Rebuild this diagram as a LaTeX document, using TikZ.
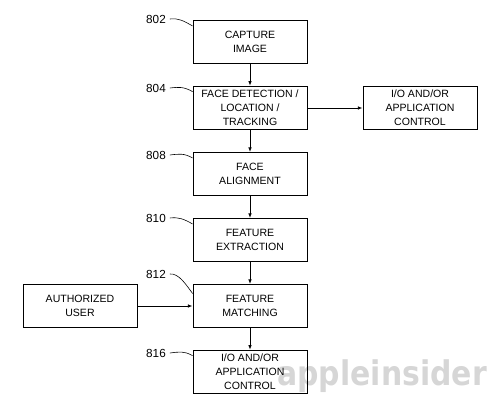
\documentclass[tikz,border=0pt]{standalone}
\usepackage{fontspec}
\setmainfont{Liberation Sans}
\newfontfamily\markfont{DejaVu Sans}
\usetikzlibrary{arrows.meta}

\begin{document}
\begin{tikzpicture}[x=0.03cm, y=-0.03cm, node distance=1.98cm,
    main/.style = {draw, rectangle, minimum width=3.42cm, minimum height=1.29cm, align=center, font=\fontsize{9}{12}\selectfont, line width=0.7pt},
    num/.style = {font=\fontsize{10}{12}\selectfont},
    lead/.style = {line width=0.5pt},
    flow/.style = {-{Latex[length=4pt,width=3pt]}, line width=0.7pt}]
            \useasboundingbox (0,0) rectangle (494,403);
            \node[text=black!16, font=\markfont\bfseries\fontsize{29}{29}\selectfont, anchor=base, xscale=0.88, inner sep=0pt](wm) at (382,386) {appleinsider};

            \node[main](802) at (250,42) {CAPTURE\\IMAGE};
            \node[main](804)[below of=802]{FACE DETECTION /\\LOCATION /\\TRACKING};
            \node[main](808)[below of=804]{FACE\\ALIGNMENT};
            \node[main](810)[below of=808]{FEATURE\\EXTRACTION};
            \node[main](812)[below of=810]{FEATURE\\MATCHING};
            \node[main](816)[below of=812]{I/O AND/OR\\APPLICATION\\CONTROL};
            \node[main](io)[right of=804, node distance=5.1cm]{I/O AND/OR\\APPLICATION\\CONTROL};
            \node[main](user)[left of=812, node distance=5.1cm]{AUTHORIZED\\USER};

            \draw[flow] (802) -- (804);\draw[flow] (804) -- (808);\draw[flow] (808) -- (810);
            \draw[flow] (810) -- (812);\draw[flow] (812) -- (816);
            \draw[flow] (804) -- (io);\draw[flow] (user) -- (812);

            \node[num](l802) at (156,19) {802};
            \node[num](l804) at (156,88) {804};
            \node[num](l808) at (156,155) {808};
            \node[num](l810) at (156,218) {810};
            \node[num](l812) at (156,274) {812};
            \node[num](l816) at (156,353) {816};

            \draw[lead] (l802.east) .. controls +(9,-1) and +(-9,-5) .. ([yshift=-5pt]802.north west);
            \draw[lead] (l804.east) .. controls +(9,-1) and +(-9,-5) .. ([yshift=-5pt]804.north west);
            \draw[lead] (l808.east) .. controls +(9,-1) and +(-9,-5) .. ([yshift=-5pt]808.north west);
            \draw[lead] (l810.east) .. controls +(9,-1) and +(-9,-5) .. ([yshift=-5pt]810.north west);
            \draw[lead] (l812.east) .. controls +(9,-1) and +(-6,-8) .. ([yshift=-8pt]812.north west);
            \draw[lead] (l816.east) .. controls +(9,-1) and +(-9,-5) .. ([yshift=-5pt]816.north west);
        \end{tikzpicture}
\end{document}
